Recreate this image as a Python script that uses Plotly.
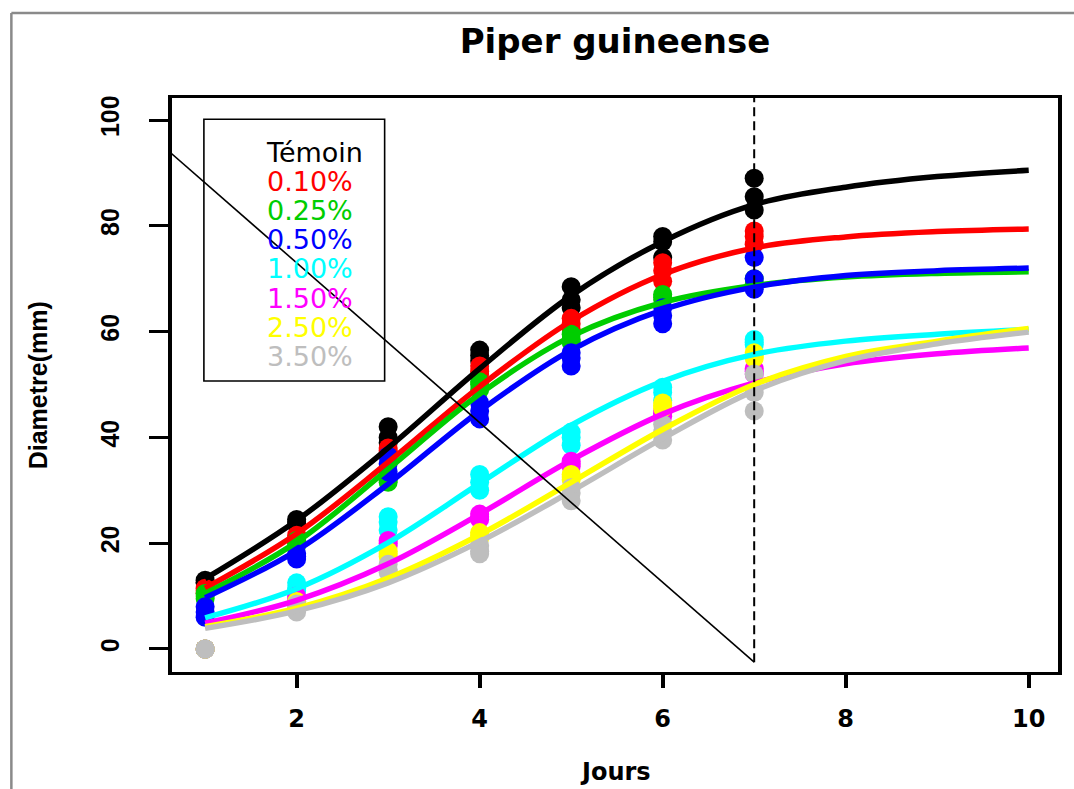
import plotly.graph_objects as go

# ---------------- data ----------------
days = [1, 2, 3, 4, 5, 6, 7]
fit_days = [1, 2, 3, 4, 5, 6, 7, 8, 9, 10]

labels = ["Témoin", "0.10%", "0.25%", "0.50%", "1.00%", "1.50%", "2.50%", "3.50%"]
colors = ["#000000", "#FF0000", "#00CD00", "#0000FF", "#00FFFF", "#FF00FF", "#FFFF00", "#BEBEBE"]

# observed diameters (3 replicates per day)
temoin_pts = [[13, 12.5, 12.5], [24.5, 24, 23.5], [42, 40, 39], [56.5, 55.5, 54.5],
              [68.5, 66, 64.5], [78, 77, 74], [89, 85.5, 83]]
p010_pts = [[11.5, 11, 10.5], [21.5, 21, 20.5], [38, 37.5, 37], [53.5, 52.5, 52],
            [62.5, 61.5, 60.5], [73, 71.5, 69.5], [79, 78, 76.5]]
p025_pts = [[10.5, 10, 9.5], [20.5, 20, 19.5], [32.5, 32, 31.5], [50.5, 50, 49],
            [59.5, 58.5, 58], [67, 66.5, 66], [70, 69, 68.5]]
p050_pts = [[8, 7, 6], [18, 17.5, 17], [36.5, 35, 33.5], [46.5, 45, 43.5],
            [56, 55, 53.5], [64.5, 63, 61.5], [74, 70, 68]]
p100_pts = [[0, 0, 0], [12.5, 11.5, 11], [25, 24, 22.5], [33, 31.5, 30],
            [41, 40, 38.5], [49.5, 48.5, 47], [58.5, 58, 57.5]]
p150_pts = [[0, 0, 0], [10, 9.5, 9], [20.5, 20, 19.5], [25.5, 25, 24.5],
            [35.5, 35, 34.5], [45, 44.5, 44], [53, 52.5, 52]]
p250_pts = [[0, 0, 0], [9, 8.5, 8], [18.5, 18, 17.5], [22, 21.5, 21],
            [33, 32.5, 32], [46.5, 46, 45.5], [56, 55.5, 55]]
p350_pts = [[0, 0, 0], [8.5, 7.5, 7], [16, 15, 14.5], [19.5, 18.5, 18],
            [30.5, 29.5, 28], [42.5, 41, 39.5], [52, 48.5, 45]]

# fitted growth curves (days 1..10)
temoin_fit = [13.3, 24.3, 38, 53, 66.8, 77, 84, 87.3, 89.3, 90.5]
p010_fit = [11.5, 21.8, 35.3, 49.6, 62, 70.8, 75.8, 77.9, 78.9, 79.4]
p025_fit = [10.5, 20.2, 34, 48.2, 59.1, 65.5, 68.7, 70.3, 71, 71.3]
p050_fit = [9.7, 18.6, 31.2, 45, 56.5, 64.1, 68.4, 70.6, 71.5, 72]
p100_fit = [5.9, 11.4, 20.1, 31.3, 42.3, 50.6, 55.7, 58.2, 59.5, 60.4]
p150_fit = [4.9, 9.2, 16.1, 25.5, 35.7, 44.4, 50.3, 53.9, 55.8, 56.9]
p250_fit = [4.2, 7.7, 13.4, 21.6, 31.5, 41.5, 50, 55.3, 58.2, 60.6]
p350_fit = [3.9, 7.2, 12.5, 20.3, 29.8, 39.8, 48.8, 54.5, 57.7, 59.9]

# reference lines
diag_x = [0, 7]
diag_y = [103.2, -2.5]
vline_x = [7, 7]
vline_y = [-2.5, 110]

x_ticks = [2, 4, 6, 8, 10]
y_ticks = [0, 20, 40, 60, 80, 100]

all_pts = [temoin_pts, p010_pts, p025_pts, p050_pts, p100_pts, p150_pts, p250_pts, p350_pts]
all_fit = [temoin_fit, p010_fit, p025_fit, p050_fit, p100_fit, p150_fit, p250_fit, p350_fit]

# ---------------- figure ----------------
fig = go.Figure()

for lab, col, pts in zip(labels, colors, all_pts):
    xs = [d for d, reps in zip(days, pts) for _ in reps]
    ys = [v for reps in pts for v in reps]
    fig.add_trace(go.Scatter(x=xs, y=ys, mode="markers", name=lab,
                             marker=dict(symbol="circle", size=19, color=col, line=dict(width=0)),
                             showlegend=False, cliponaxis=True))

for lab, col, fit in zip(labels, colors, all_fit):
    fig.add_trace(go.Scatter(x=fit_days, y=fit, mode="lines", name=lab + " fit",
                             line=dict(color=col, width=5.5, shape="spline", smoothing=1.0),
                             showlegend=False))

fig.add_trace(go.Scatter(x=diag_x, y=diag_y, mode="lines", line=dict(color="black", width=1.6),
                         showlegend=False))
fig.add_trace(go.Scatter(x=vline_x, y=vline_y, mode="lines",
                         line=dict(color="black", width=2, dash="9px,5px"), showlegend=False))

# legend (coloured text inside a box)
shapes = [
    dict(type="rect", xref="paper", yref="paper", x0=0.036, x1=0.240, y0=0.507, y1=0.963,
         line=dict(color="black", width=1.6), fillcolor="rgba(0,0,0,0)"),
    # outer grey frame (left and top)
    dict(type="line", xref="paper", yref="paper", x0=-0.1813, x1=-0.1813, y0=-0.25, y1=1.148,
         line=dict(color="#8a8a8a", width=2.5)),
    dict(type="line", xref="paper", yref="paper", x0=-0.1813, x1=1.05, y0=1.148, y1=1.148,
         line=dict(color="#8a8a8a", width=2.5)),
]

legend_text = "<br>".join(
    f"<span style='color:{c};font-size:27px'>{lab}</span>" for lab, c in zip(labels, colors)
)

annotations = [
    dict(text=legend_text, xref="paper", yref="paper", x=0.1035, y=(672 - 254.5) / 574,
         xanchor="left", yanchor="middle", align="left", showarrow=False,
         font=dict(family="DejaVu Sans", size=22.4, color="black")),
    dict(text="Jours", xref="paper", yref="paper", x=0.5, y=(672 - 772) / 574,
         xanchor="center", yanchor="middle", showarrow=False,
         font=dict(family="DejaVu Sans", size=24, color="black", weight="bold")),
    dict(text="Diametre(mm)", xref="paper", yref="paper", x=(38 - 172) / 888, y=0.5,
         xanchor="center", yanchor="middle", showarrow=False, textangle=-90,
         font=dict(family="Liberation Sans", size=25, color="black", weight="bold")),
]

fig.update_layout(
    width=1074, height=789, autosize=False,
    margin=dict(l=172, r=14, t=98, b=117),
    paper_bgcolor="white", plot_bgcolor="white",
    title=dict(text="Piper guineense", x=0.5, xref="paper", xanchor="center",
               y=1 - 41 / 789, yref="container", yanchor="middle",
               font=dict(family="DejaVu Sans", size=34, color="black", weight="bold")),
    shapes=shapes, annotations=annotations,
    xaxis=dict(range=[0.638, 10.32], tickvals=x_ticks, ticktext=[str(t) for t in x_ticks],
               ticks="outside", ticklen=13, tickwidth=3.5, tickcolor="black",
               showline=True, linewidth=3, linecolor="black", mirror=True,
               showgrid=False, zeroline=False, ticklabelstandoff=10,
               tickfont=dict(family="DejaVu Sans", size=24, color="black", weight="bold")),
    yaxis=dict(range=[-4.35, 104.16], tickvals=y_ticks, ticktext=[str(t) for t in y_ticks],
               ticks="outside", ticklen=19, tickwidth=3, tickcolor="black",
               showline=True, linewidth=4, linecolor="black", mirror=True,
               showgrid=False, zeroline=False, tickangle=-90, ticklabelstandoff=20,
               tickfont=dict(family="Liberation Sans", size=25, color="black", weight="bold")),
)

fig.write_html("out.html", config={"displayModeBar": False},
               post_script="document.body.style.margin='0';document.body.style.overflow='hidden';")
